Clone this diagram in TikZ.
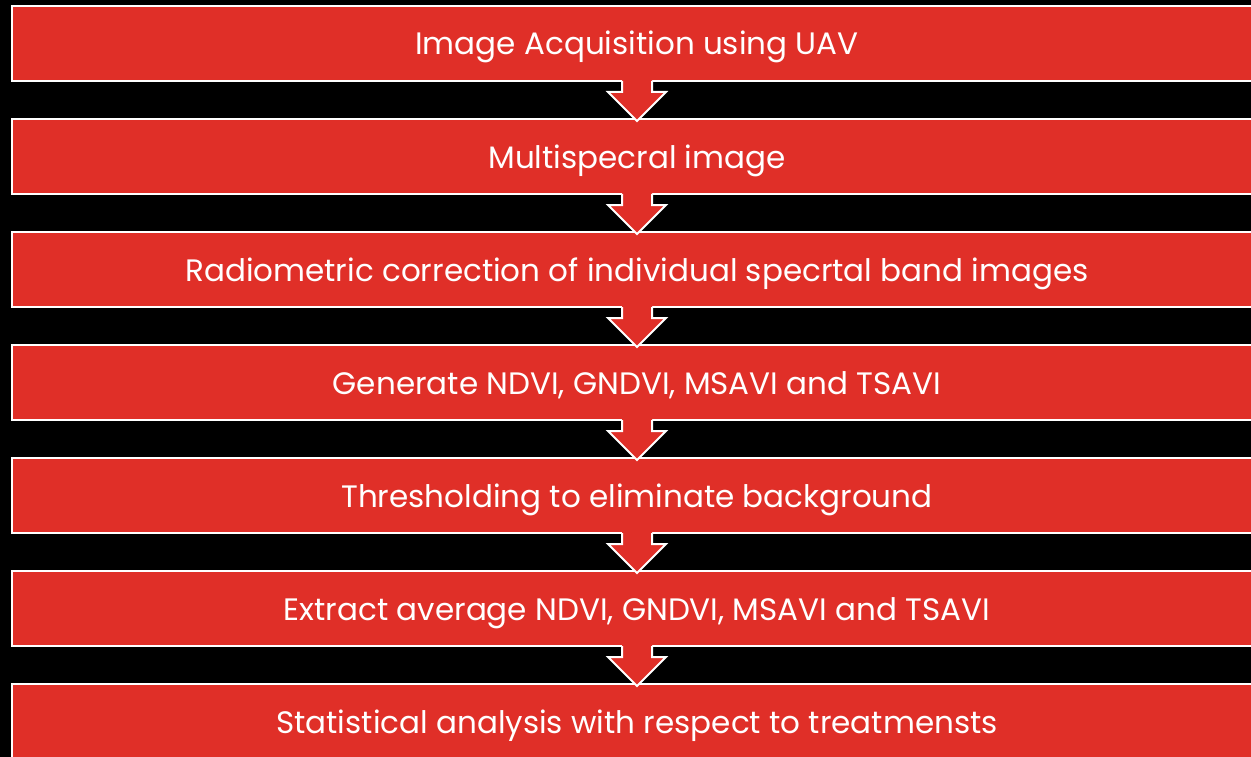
\documentclass[tikz,border=0pt]{standalone}
\usepackage{fontspec}
\setsansfont{Poppins}
\usepackage{xcolor}
\usetikzlibrary{calc}
\definecolor{box red}{RGB}{224,47,40}
\tikzset{stepbox/.style={draw=white, line width=2pt, fill=box red, outer sep=0pt,
        minimum width=1250pt, minimum height=75pt, text=white,
        text height=25pt, text depth=2pt,
        font=\sffamily\fontsize{31}{36}\selectfont},
    arrow fill/.style={fill=box red},
    arrow edge/.style={draw=white, line width=2pt, line join=miter}}

\begin{document}
\begin{tikzpicture}[x=1pt,y=-1pt]
    \fill[black] (0,0) rectangle (1251,757);
    \useasboundingbox (0,0) rectangle (1251,757);
    \foreach \txt [count=\i] in {Image Acquisition using UAV,
        Multispecral image,
        Radiometric correction of individual specrtal band images,
        {Generate NDVI, GNDVI, MSAVI and TSAVI},
        Thresholding to eliminate background,
        {Extract average NDVI, GNDVI, MSAVI and TSAVI},
        Statistical analysis with respect to treatmensts}
        \node[stepbox] (b\i) at (637,{43.5+113*(\i-1)}) {\txt};
    % block arrows between the steps
    \foreach \i [evaluate=\i as \j using int(\i+1)] in {1,...,6} {
        \fill[arrow fill] ($(b\i.south)+(-15,-3)$) -- ($(b\i.south)+(-15,11)$)
            -- ($(b\i.south)+(-29,11)$) -- ($(b\j.north)+(0,2)$)
            -- ($(b\i.south)+(29,11)$) -- ($(b\i.south)+(15,11)$)
            -- ($(b\i.south)+(15,-3)$) -- cycle;
        \draw[arrow edge] ($(b\i.south)+(-15,0)$) -- ($(b\i.south)+(-15,11)$)
            -- ($(b\i.south)+(-29,11)$) -- ($(b\j.north)+(0,2)$)
            -- ($(b\i.south)+(29,11)$) -- ($(b\i.south)+(15,11)$)
            -- ($(b\i.south)+(15,0)$);
    }
\end{tikzpicture}
\end{document}
